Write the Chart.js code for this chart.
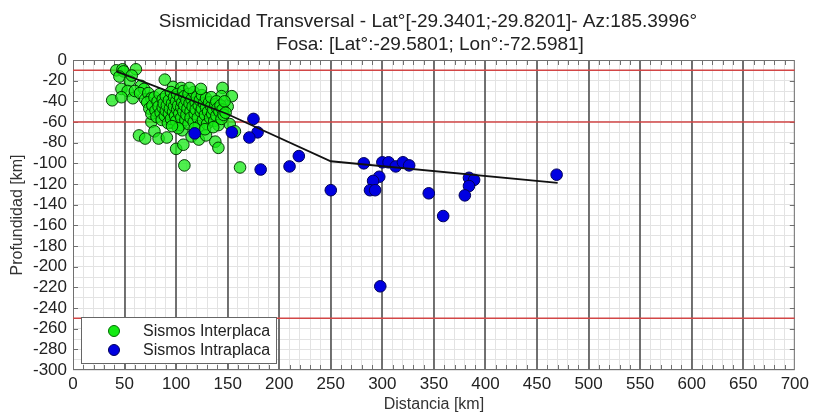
<!DOCTYPE html>
<html>
<head>
<meta charset="utf-8">
<script src="https://cdn.jsdelivr.net/npm/chart.js@4.4.1/dist/chart.umd.min.js"></script>
<style>
  html, body { margin: 0; padding: 0; background: #fff; }
</style>
</head>
<body>
<canvas id="chart" width="813" height="418"></canvas>
<script>
// Chart title lines
const titleLines = [
    'Sismicidad Transversal - Lat°[-29.3401;-29.8201]- Az:185.3996°',
    'Fosa: [Lat°:-29.5801; Lon°:-72.5981]'
];

// Interplate events [distance km, depth km]
const interplaca = [
    [42,-10],[48,-9],[61,-9],[49,-11],[45,-16],[55,-20],[57,-15],[38,-39],[47,-28],[53,-30],
    [47,-36],[58,-37],[66,-25],[60,-30],[69,-28],[65,-32],[70,-38],[89,-19],[73,-32],[76,-37],
    [76,-60],[79,-69],[64,-73],[70,-76],[83,-76],[91,-75],[100,-86],[107,-82],[108,-102],
    [97,-26],[105,-27],[97,-61],[106,-68],[115,-74],[122,-77],[129,-73],[138,-79],[141,-85],
    [145,-27],[144,-35],[154,-35],[150,-45],[152,-62],[157,-69],[162,-104],
    // dense core
    [72,-41],[74,-47],[76,-52],[77,-44],[79,-36],[80,-49],[81,-55],[82,-40],[83,-45],[84,-33],
    [85,-51],[86,-58],[87,-38],[87,-46],[88,-42],[89,-54],[90,-35],[90,-49],[91,-44],[92,-61],
    [93,-39],[93,-52],[94,-47],[95,-31],[95,-57],[96,-42],[97,-50],[98,-36],[98,-45],[99,-54],
    [100,-40],[100,-59],[101,-33],[101,-48],[102,-44],[103,-52],[104,-37],[104,-63],[105,-46],[105,-56],
    [106,-41],[107,-30],[107,-50],[108,-35],[108,-44],[109,-58],[110,-39],[110,-53],[111,-47],[112,-62],
    [112,-33],[113,-42],[114,-50],[114,-56],[115,-38],[116,-45],[117,-60],[117,-31],[118,-52],[119,-41],
    [119,-48],[120,-36],[121,-56],[122,-44],[122,-64],[123,-39],[124,-50],[125,-34],[125,-47],[126,-58],
    [127,-42],[128,-53],[129,-37],[129,-46],[130,-62],[131,-50],[132,-41],[133,-56],[134,-45],[134,-36],
    [135,-52],[136,-48],[137,-59],[138,-43],[139,-40],[139,-54],[140,-47],[141,-63],[142,-50],[143,-44],
    [144,-57],[145,-48],[146,-53],[147,-40],[148,-51],[124,-28],[113,-27],[118,-66],[128,-67],[136,-65],
    [102,-66],[96,-64]
];

// Intraplate events [distance km, depth km]
const intraplaca = [
    [118,-71],[154,-70],[175,-57],[179,-70],[171,-75],[182,-106],[219,-93],[210,-103],
    [250,-126],[282,-100],[300,-99],[306,-99],[313,-103],[320,-99],[326,-102],[297,-113],
    [291,-117],[288,-126],[293,-126],[345,-129],[359,-151],[384,-114],[389,-116],[384,-122],
    [380,-131],[469,-111],[298,-219]
];

// Slab geometry line
const slabLine = [[42,-11],[149,-52],[250,-98],[470,-119]];

// Reference depths (red lines)
const redDepths = [-10, -60, -250];

const font = "'Liberation Sans', Arial, sans-serif";
const toXY = arr => arr.map(p => ({ x: p[0], y: p[1] }));

// Draws the title, major grid, frame, inward ticks and the boxed legend
const framePlugin = {
    id: 'frame',
    beforeDatasetsDraw(chart) {
        const { ctx, chartArea: a, scales: { x, y } } = chart;
        ctx.save();
        // dark major lines every 50 km
        ctx.strokeStyle = '#505050';
        ctx.lineWidth = 1.6;
        ctx.beginPath();
        for (let v = 50; v < 700; v += 50) {
            const px = Math.round(x.getPixelForValue(v));
            ctx.moveTo(px, a.top); ctx.lineTo(px, a.bottom);
        }
        ctx.stroke();
        // inward ticks
        ctx.strokeStyle = '#707070';
        ctx.lineWidth = 1;
        ctx.beginPath();
        for (let v = 10; v < 700; v += 10) {
            const px = Math.round(x.getPixelForValue(v)) + 0.5;
            ctx.moveTo(px, a.top); ctx.lineTo(px, a.top + 5);
            ctx.moveTo(px, a.bottom); ctx.lineTo(px, a.bottom - 5);
        }
        for (let v = -280; v < 0; v += 20) {
            const py = Math.round(y.getPixelForValue(v)) + 0.5;
            ctx.moveTo(a.left, py); ctx.lineTo(a.left + 5, py);
            ctx.moveTo(a.right, py); ctx.lineTo(a.right - 5, py);
        }
        ctx.stroke();
        ctx.strokeRect(a.left + 0.5, a.top + 0.5, a.width - 1, a.height - 1);
        ctx.restore();
    },
    afterDraw(chart) {
        const { ctx } = chart;
        ctx.save();
        // title
        ctx.fillStyle = '#222';
        ctx.font = '19px ' + font;
        ctx.textAlign = 'center';
        ctx.textBaseline = 'alphabetic';
        ctx.fillText(titleLines[0], 428, 26.5);
        ctx.fillText(titleLines[1], 430, 50);
        // legend
        ctx.textAlign = 'left';
        ctx.fillStyle = '#fff';
        ctx.strokeStyle = '#666';
        ctx.lineWidth = 1;
        ctx.fillRect(81, 317, 195, 46);
        ctx.strokeRect(81.5, 317.5, 195, 46);
        const items = [
            { label: 'Sismos Interplaca', fill: 'rgb(20,235,20)', border: 'rgb(0,110,0)', y: 331 },
            { label: 'Sismos Intraplaca', fill: 'rgb(0,0,225)', border: 'rgb(0,0,90)', y: 350 }
        ];
        ctx.font = '16px ' + font;
        ctx.textBaseline = 'middle';
        items.forEach(it => {
            ctx.beginPath();
            ctx.arc(114, it.y, 5.5, 0, Math.PI * 2);
            ctx.fillStyle = it.fill;
            ctx.fill();
            ctx.strokeStyle = it.border;
            ctx.stroke();
            ctx.fillStyle = '#222';
            ctx.fillText(it.label, 143, it.y + 1);
        });
        ctx.restore();
    }
};

const datasets = [
    {
        label: 'Slab',
        data: toXY(slabLine),
        showLine: true,
        borderColor: '#111',
        borderWidth: 1.8,
        pointRadius: 0,
        order: 0
    },
    {
        label: 'Sismos Intraplaca',
        data: toXY(intraplaca),
        backgroundColor: 'rgb(0,0,225)',
        borderColor: 'rgb(0,0,90)',
        borderWidth: 1,
        pointRadius: 5.8,
        order: 1
    },
    {
        label: 'Sismos Interplaca',
        data: toXY(interplaca),
        backgroundColor: 'rgba(20,235,20,0.75)',
        borderColor: 'rgba(0,50,0,0.95)',
        borderWidth: 1,
        pointRadius: 5.8,
        order: 2
    }
];

redDepths.forEach(d => {
    datasets.push({
        label: 'ref ' + d,
        data: [{ x: 0, y: d }, { x: 700, y: d }],
        showLine: true,
        borderColor: 'rgb(210,70,70)',
        borderWidth: 1.5,
        pointRadius: 0,
        order: 3
    });
});

new Chart(document.getElementById('chart'), {
    type: 'scatter',
    data: { datasets: datasets },
    options: {
        responsive: false,
        animation: false,
        layout: { padding: { left: 0, right: 17, top: 60, bottom: 0 } },
        plugins: {
            legend: { display: false },
            tooltip: { enabled: false },
            title: { display: false }
        },
        scales: {
            x: {
                type: 'linear',
                min: 0,
                max: 700,
                afterFit: s => { s.height = 48; },
                ticks: {
                    stepSize: 10,
                    autoSkip: false,
                    maxRotation: 0,
                    padding: 4,
                    color: '#222',
                    font: { family: font, size: 17 },
                    callback: v => (v % 50 === 0 ? v : '')
                },
                grid: {
                    drawTicks: false,
                    color: '#e3e3e3',
                    lineWidth: 1
                },
                border: { display: false },
                title: {
                    display: true,
                    text: 'Distancia [km]',
                    color: '#333',
                    font: { family: font, size: 16 },
                    padding: { top: 0, bottom: 3.5 }
                }
            },
            y: {
                type: 'linear',
                min: -300,
                max: 0,
                afterFit: s => { s.width = 73; },
                ticks: {
                    stepSize: 10,
                    autoSkip: false,
                    padding: 6,
                    color: '#222',
                    font: { family: font, size: 17 },
                    callback: v => (v % 20 === 0 ? v : '')
                },
                grid: {
                    drawTicks: false,
                    color: '#e3e3e3',
                    lineWidth: 1
                },
                border: { display: false },
                title: {
                    display: true,
                    text: 'Profundidad [km]',
                    color: '#333',
                    font: { family: font, size: 16 },
                    padding: { top: 8.4, bottom: 0 }
                }
            }
        }
    },
    plugins: [framePlugin]
});
</script>
</body>
</html>
